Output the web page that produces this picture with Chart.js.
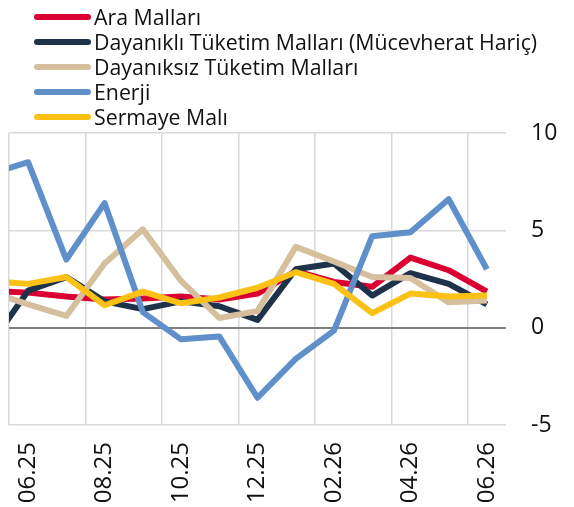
<!DOCTYPE html>
<html>
<head>
<meta charset="UTF-8">
<title>Alt kalemler</title>
<script src="https://cdn.jsdelivr.net/npm/chart.js@4.4.0/dist/chart.umd.min.js"></script>
<style>
  html, body { margin: 0; padding: 0; background: #fff; }
  #wrap { position: relative; width: 574px; height: 507px; }
  #legend { position: absolute; left: 34px; top: 4px; font-family: "Open Sans", sans-serif; font-size: 21.3px; color: #111; }
  .row { height: 25px; line-height: 25px; display: flex; align-items: center; white-space: nowrap; }
  .sw { width: 57px; height: 6px; border-radius: 3px; margin-right: 3px; }
</style>
</head>
<body>
<div id="wrap">
  <canvas id="myChart" width="574" height="507"></canvas>
  <div id="legend"></div>
</div>
<script>
// 05.25 is only there so the lines run in from the left edge (it is cut off)
var months = ['05.25','06.25','07.25','08.25','09.25','10.25','11.25','12.25','01.26','02.26','03.26','04.26','05.26','06.26'];

var araMallari     = [1.9, 1.8, 1.6, 1.45, 1.5, 1.6, 1.45, 1.75, 2.9, 2.35, 2.1, 3.6, 2.95, 1.85];
var dayanikli      = [-0.9, 1.9, 2.6, 1.35, 0.95, 1.35, 1.1, 0.4, 3.0, 3.3, 1.65, 2.8, 2.25, 1.2];
var dayaniksiz     = [1.85, 1.2, 0.6, 3.3, 5.05, 2.4, 0.5, 0.85, 4.15, 3.4, 2.6, 2.55, 1.3, 1.4];
var enerji         = [7.9, 8.5, 3.5, 6.4, 0.8, -0.6, -0.45, -3.6, -1.6, -0.15, 4.7, 4.9, 6.6, 3.0];
var sermaye        = [2.4, 2.25, 2.6, 1.15, 1.85, 1.25, 1.55, 2.05, 2.85, 2.25, 0.75, 1.75, 1.6, 1.65];

var names  = ['Ara Malları', 'Dayanıklı Tüketim Malları (Mücevherat Hariç)', 'Dayanıksız Tüketim Malları', 'Enerji', 'Sermaye Malı'];
var colors = ['#DB0032', '#1E334A', '#D5BF9D', '#6090C9', '#FBC114'];
var series = [araMallari, dayanikli, dayaniksiz, enerji, sermaye];
var yTicks = [-5, 0, 5, 10];

var datasets = series.map(function(s, i) {
  return {
    label: names[i],
    data: s,
    borderColor: colors[i],
    backgroundColor: colors[i],
    borderWidth: 6,
    pointRadius: 0,
    tension: 0,
    borderJoinStyle: 'round',
    clip: 0,
    order: series.length - i   // later series on top, like the original
  };
});

var lg = document.getElementById('legend');
names.forEach(function(n, i) {
  lg.innerHTML += '<div class="row"><div class="sw" style="background:' + colors[i] + '"></div><span>' + n + '</span></div>';
});

var ctx = document.getElementById('myChart').getContext('2d');
var myChart = new Chart(ctx, {
  type: 'line',
  data: { labels: months, datasets: datasets },
  options: {
    responsive: false,
    animation: false,
    layout: { padding: { left: 9, top: 133, right: 0, bottom: 0 } },
    plugins: { legend: { display: false }, tooltip: { enabled: false } },
    scales: {
      x: {
        type: 'category',
        min: '06.25',
        offset: true,
        border: { display: false },
        grid: {
          offset: true,
          drawTicks: false,
          lineWidth: 1.5,
          color: function(c) { return c.index % 2 === 0 ? '#d9d9d9' : 'rgba(0,0,0,0)'; }
        },
        ticks: {
          autoSkip: false,
          minRotation: 90,
          maxRotation: 90,
          padding: 17,
          color: '#111',
          font: { family: 'Open Sans', size: 24 },
          callback: function(v, i) { return i % 2 === 0 ? this.getLabelForValue(v) : ''; }
        },
        afterFit: function(s) { s.height = 82; }
      },
      y: {
        position: 'right',
        min: yTicks[0],
        max: yTicks[yTicks.length - 1],
        border: { display: false },
        grid: {
          drawTicks: false,
          lineWidth: function(c) { return c.tick && c.tick.value === 0 ? 2 : 1.5; },
          color: function(c) { return c.tick && c.tick.value === 0 ? '#808080' : '#d9d9d9'; }
        },
        afterBuildTicks: function(s) { s.ticks = yTicks.map(function(v) { return { value: v }; }); },
        ticks: {
          padding: 25,
          color: '#111',
          font: { family: 'Open Sans', size: 23 }
        },
        afterFit: function(s) { s.width = 68; }
      }
    }
  }
});
</script>
</body>
</html>
